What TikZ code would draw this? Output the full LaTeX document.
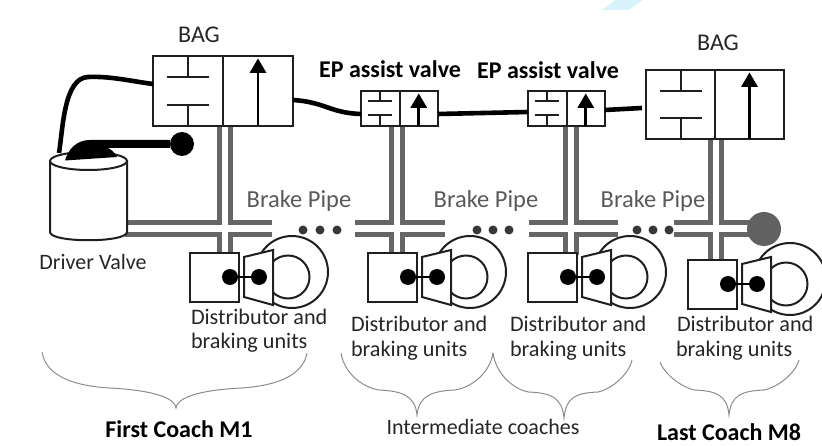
\documentclass[tikz,border=0pt]{standalone}
\usepackage{fontspec}
\setmainfont{Carlito}
\newcommand{\fs}[1]{\fontsize{#1}{#1}\selectfont}
\tikzset{
  x=1pt,y=-1pt,
  ink/.style={draw=black!88,line width=2pt},
  shaft/.style={draw=black,line width=2.7pt},
  pipe/.style={draw=black!60,line width=5pt},
  feed/.style={draw=black,line width=4.6pt},
  lab/.style={inner sep=0pt,outer sep=0pt,text=black!85},
  labl/.style={lab,anchor=west},
  pipelab/.style={lab,text=black!65,font=\fs{24.5}},
  distlab/.style={labl,font=\fs{22.2}},
  eplab/.style={lab,text=black,font=\bfseries\fs{24}},
  coachlab/.style={lab,text=black,font=\bfseries\fs{24}},
  brace/.style={draw=black!45,line width=1pt},
  dotp/.style={circle,fill=black!78,inner sep=0pt,minimum size=9pt},
  box/.style={draw=black!88,line width=2pt,fill=white,inner sep=0pt,outer sep=0pt,anchor=north west},
}
% name, x, y, w, h, half bar length
\newcommand{\valve}[6]{%
  \node[box,minimum width=#4pt,minimum height=#5pt] (#1) at (#2,#3) {};
  \pgfmathsetmacro{\vxa}{#2+#4*.25}\pgfmathsetmacro{\vxb}{#2+#4*.5}\pgfmathsetmacro{\vxc}{#2+#4*.75}
  \pgfmathsetmacro{\vyb}{#3+#5}
  \pgfmathsetmacro{\vya}{#3+#5*.3}\pgfmathsetmacro{\vyc}{#3+#5*.7}
  \pgfmathsetmacro{\vba}{\vxa-#6}\pgfmathsetmacro{\vbb}{\vxa+#6}
  \pgfmathsetmacro{\vtip}{#3+2.5}\pgfmathsetmacro{\vbase}{#3+17}
  \pgfmathsetmacro{\vleft}{\vxc-8.5}\pgfmathsetmacro{\vright}{\vxc+8.5}
  \draw[ink] (\vxb,#3) -- (\vxb,\vyb);
  \draw[ink] (\vxa,#3) -- (\vxa,\vya) (\vba,\vya) -- (\vbb,\vya);
  \draw[ink] (\vxa,\vyb) -- (\vxa,\vyc) (\vba,\vyc) -- (\vbb,\vyc);
  \draw[shaft] (\vxc,\vyb) -- (\vxc,\vbase);
  \fill[black] (\vxc,\vtip) -- (\vright,\vbase) -- (\vleft,\vbase) -- cycle;
}
% name, dx, dy
\newcommand{\brakeunit}[3]{%
  \begin{scope}[shift={(#2,#3)}]
    \draw[ink] (470,272) circle[radius=36pt];
    \draw[ink] (466,277) circle[radius=21.5pt];
    \node[box,minimum width=49pt,minimum height=49pt] (#1box) at (368,253) {};
    \filldraw[ink,fill=white] (422,257) -- (451,250) -- (451,305) -- (422,297) -- cycle;
    \node[circle,fill=black,inner sep=0pt,minimum size=16pt] (#1a) at (408,277) {};
    \node[circle,fill=black,inner sep=0pt,minimum size=16pt] (#1b) at (437,277) {};
    \draw[black,line width=2.4pt] (#1a) -- (#1b);
  \end{scope}
}
% left x, left y, tip x, tip y, right x, right y, valley y
\newcommand{\curly}[7]{%
  \pgfmathsetmacro{\cma}{(#1+#3)/2}\pgfmathsetmacro{\cmb}{(#3+#5)/2}
  \draw[brace] (#1,#2) .. controls (#1+3,#7-18) and (#1+20,#7-3) .. (\cma,#7)
    .. controls (\cma+22,#7+1) and (#3-2,#7+5) .. (#3,#4)
    .. controls (#3+2,#7+5) and (\cmb-22,#7+1) .. (\cmb,#7)
    .. controls (#5-20,#7-3) and (#5-3,#7-18) .. (#5,#6);
}
% x left, x right of vertical pair, left end, right end, bottom
\newcommand{\pipecross}[5]{%
  \draw[pipe] (#3,223) -- (#1,223) -- (#1,120);
  \draw[pipe] (#4,223) -- (#2,223) -- (#2,120);
  \draw[pipe] (#3,235) -- (#1,235) -- (#1,#5);
  \draw[pipe] (#4,235) -- (#2,235) -- (#2,#5);
}
\begin{document}
\begin{tikzpicture}
\useasboundingbox (0,0) rectangle (822,446);
\fill[cyan!15] (615,0) -- (643,0) -- (629,10) -- (602,10) -- cycle;

% pipes
\pipecross{219}{230}{125}{272}{255}
\pipecross{391}{402}{355}{445}{255}
\pipecross{565}{576}{529}{618}{255}
\pipecross{710}{721}{674}{750}{262}

% drivers valve cylinder
\draw[ink,fill=white] (50,161) -- (50,232) .. controls (50,243) and (127,243) .. (127,232) -- (127,161);
\draw[ink,fill=white] (88.5,161) ellipse[x radius=38.5pt,y radius=9pt];
\coordinate (cyltop) at (59,153);
\fill[black] (65,160.5) .. controls (68,150) and (76,140) .. (90,140) -- (170,140) -- (170,148) -- (108,148)
  .. controls (112,150) and (115,153) .. (117,157) -- cycle;
\node[circle,fill=black,inner sep=0pt,minimum size=24pt] (knob) at (182,144) {};

% valves
\valve{bagone}{153}{56}{140}{70}{21}
\valve{epone}{361}{91}{77}{35}{12}
\valve{eptwo}{528}{91}{77}{35}{12}
\valve{bagtwo}{646}{70}{138}{69}{21}

% air line
\coordinate (bagoneout) at (293,100);
\coordinate (eponein) at (361,114);
\coordinate (eponeout) at (438,114);
\coordinate (eptwoin) at (528,112);
\coordinate (eptwoout) at (605,110);
\coordinate (bagtwoin) at (642,108);
\coordinate (bagonein) at (153,84);
\draw[feed] (cyltop) .. controls (63,128) and (64,78) .. (88,77) .. controls (110,76) and (130,81) .. (bagonein);
\draw[feed] (bagoneout) .. controls (325,102) and (330,113) .. (eponein);
\draw[feed] (eponeout) -- (eptwoin);
\draw[feed] (eptwoout) -- (bagtwoin);

% dots
\foreach \n/\px in {a/303,b/320,c/337,d/477,e/493,f/509,g/637,h/653,i/669}
  \node[dotp] (dot\n) at (\px,230) {};

% brake units
\brakeunit{ua}{-178}{0}
\brakeunit{ub}{0}{0}
\brakeunit{uc}{160}{0}
\brakeunit{ud}{320}{7}
\node[circle,fill=black!62,inner sep=0pt,minimum size=34pt] (endcap) at (764,229) {};

% labels
\node[lab,font=\fs{24}] (bagonelab) at (199,35) {BAG};
\node[lab,font=\fs{24}] (bagtwolab) at (718,43) {BAG};
\node[eplab] (eponelab) at (390,69) {EP assist valve};
\node[eplab] (eptwolab) at (548,70) {EP assist valve};
\node[lab,font=\fs{22}] (drv) at (93,262) {Driver Valve};
\node[pipelab] (bpa) at (299,201) {Brake Pipe};
\node[pipelab] (bpb) at (486,201) {Brake Pipe};
\node[pipelab] (bpc) at (653,201) {Brake Pipe};
\node[distlab] (da) at (191,317) {Distributor and};
\node[distlab] (db) at (191,343) {braking units};
\node[distlab] (dc) at (351,324) {Distributor and};
\node[distlab] (dd) at (351,351) {braking units};
\node[distlab] (de) at (510,324) {Distributor and};
\node[distlab] (df) at (510,351) {braking units};
\node[distlab] (dg) at (677,324) {Distributor and};
\node[distlab] (dh) at (676,351) {braking units};
\node[coachlab] (first) at (179,429) {First Coach M1};
\node[lab,font=\fs{22}] (inter) at (483,427) {Intermediate coaches};
\node[coachlab] (last) at (729,432) {Last Coach M8};

% braces
\curly{42}{352}{176}{408}{307}{353}{388}
\curly{341}{353}{417}{415}{493}{353}{390}
\curly{493}{353}{564}{418}{632}{360}{392}
\curly{660}{362}{729}{415}{799}{360}{390}
\end{tikzpicture}
\end{document}
